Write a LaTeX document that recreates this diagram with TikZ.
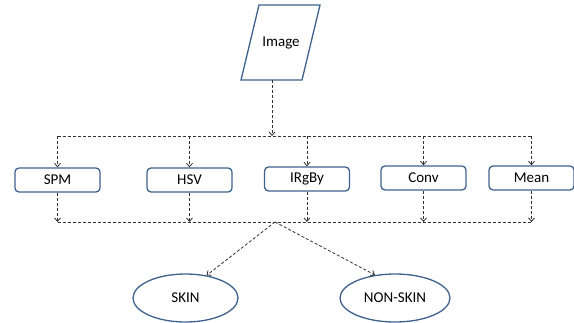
\documentclass[tikz,border=0pt]{standalone}
\usepackage{fontspec}
\setmainfont{Carlito}
\usetikzlibrary{arrows.meta,shapes.geometric}
\definecolor{boxblue}{RGB}{62,98,140}
\definecolor{linegray}{RGB}{50,50,50}

\begin{document}
\begin{tikzpicture}[x=1pt,y=-1pt,
  every node/.style={font=\fontsize{15}{17}\selectfont},
  box/.style={draw=boxblue,line width=1.3pt,rounded corners=4pt,
    minimum width=85pt,minimum height=24pt,inner sep=0pt},
  oval/.style={draw=boxblue,line width=1.3pt,ellipse,inner sep=0pt},
  link/.style={draw=linegray,line width=0.8pt,dash pattern=on 3pt off 2pt},
  flow/.style={link,-{Straight Barb[length=3.5pt,width=6pt]}}]
\useasboundingbox (0,0) rectangle (574,322);
% input
\draw[boxblue,line width=1.3pt] (241,80) -- (259,5) -- (320,5) -- (302,80) -- cycle;
\node(Img) at (281,43) {Image};
\coordinate (ImgB) at (272,80);
\coordinate (Top) at (272,136);
\coordinate (Bot) at (275,222);
% feature boxes
\node[box](SPM)   at (57.5,180)  {SPM};
\node[box](HSV)   at (189.5,180) {HSV};
\node[box](IRgBy) at (307,179)   {IRgBy};
\node[box](Conv)  at (423.5,178) {Conv};
\node[box](Mean)  at (531.5,178) {Mean};
% classes
\node[oval,minimum width=105pt,minimum height=48pt](Skin) at (185.5,298) {SKIN};
\node[oval,minimum width=110pt,minimum height=48pt](Non)  at (395,298)   {NON-SKIN};
\draw[flow] (ImgB) -- (Top);
\draw[link] (SPM.north |- Top) -- (Mean.north |- Top);
\draw[link] (SPM.south |- Bot) -- (Mean.south |- Bot);
\foreach \b in {SPM,HSV,IRgBy,Conv,Mean}{
  \draw[flow] (\b.north |- Top) -- (\b.north);
  \draw[flow] (\b.south) -- (\b.south |- Bot);
}
\draw[flow] (Bot) -- (Skin.47);
\draw[flow] (Bot) -- (Non.131);
\end{tikzpicture}
\end{document}
